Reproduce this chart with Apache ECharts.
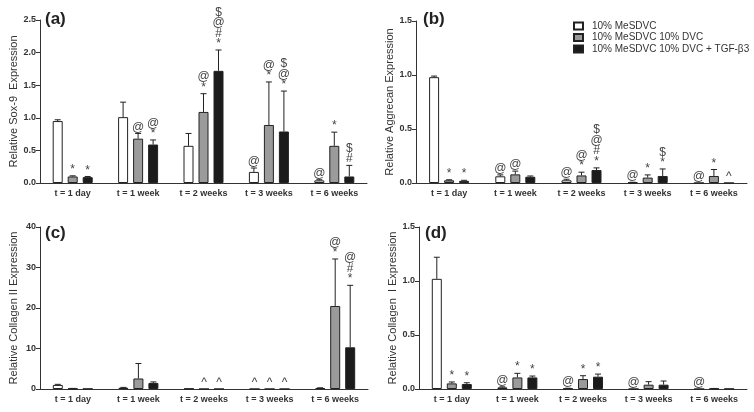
<!DOCTYPE html>
<html>
<head>
<meta charset="utf-8">
<script src="https://cdn.jsdelivr.net/npm/echarts@6/dist/echarts.min.js"></script>
<style>html,body{margin:0;padding:0;background:#fff}#c{width:754px;height:412px}</style>
</head>
<body>
<div id="c"></div>
<script>
// ---------- data ----------
const categories = ['t = 1 day', 't = 1 week', 't = 2 weeks', 't = 3 weeks', 't = 6 weeks'];
const seriesNames = ['10% MeSDVC', '10% MeSDVC 10% DVC', '10% MeSDVC 10% DVC + TGF-\u03b23'];

// (a) Sox-9 : means, upper error-bar ends, significance marks (top to bottom)
const sox9Mean = [[0.95, 1.01, 0.57, 0.17, 0.04], [0.10, 0.68, 1.09, 0.89, 0.57], [0.09, 0.59, 1.72, 0.79, 0.10]];
const sox9Top  = [[0.97, 1.24, 0.76, 0.23, 0.05], [0.11, 0.76, 1.37, 1.55, 0.78], [0.10, 0.66, 2.04, 1.41, 0.27]];
const sox9Sig  = [['', '', '', '@', '@'], ['*', '@', '@*', '@*', '*'], ['*', '@*', '$@#*', '$@*', '$#']];

// (b) Aggrecan
const aggMean = [[0.98, 0.062, 0.025, 0.005, 0.0], [0.025, 0.08, 0.07, 0.05, 0.065], [0.02, 0.058, 0.12, 0.065, 0.0]];
const aggTop  = [[0.99, 0.075, 0.035, 0.007, 0.0], [0.03, 0.11, 0.10, 0.075, 0.125], [0.025, 0.065, 0.14, 0.13, 0.0]];
const aggSig  = [['', '@', '@', '@', '@'], ['*', '@', '@*', '*', '*'], ['*', '', '$@#*', '$*', '^']];

// (c) Collagen II
const col2Mean = [[1.0, 0.3, 0.1, 0.0, 0.25], [0.1, 2.6, 0.0, 0.0, 20.5], [0.05, 1.5, 0.0, 0.0, 10.3]];
const col2Top  = [[1.15, 0.4, 0.1, 0.0, 0.3], [0.15, 6.3, 0.0, 0.0, 32.1], [0.05, 1.75, 0.0, 0.0, 25.6]];
const col2Sig  = [['', '', '', '^', ''], ['', '', '^', '^', '@*'], ['', '', '^', '^', '@#*']];

// (d) Collagen I
const col1Mean = [[1.02, 0.015, 0.005, 0.0, 0.0], [0.052, 0.107, 0.092, 0.04, 0.003], [0.046, 0.107, 0.114, 0.04, 0.002]];
const col1Top  = [[1.22, 0.02, 0.007, 0.0, 0.0], [0.065, 0.145, 0.123, 0.068, 0.005], [0.058, 0.12, 0.138, 0.074, 0.002]];
const col1Sig  = [['', '@', '@', '@', '@'], ['*', '*', '*', '', ''], ['*', '*', '*', '', '']];

const yNames = ['Relative Sox-9  Expression', 'Relative Aggrecan Expression', 'Relative Collagen II Expression', 'Relative Collagen  I Expression'];
const panelLabels = ['(a)', '(b)', '(c)', '(d)'];
const yMax = [2.5, 1.5, 40, 1.5];
const yStep = [0.5, 0.5, 10, 0.5];

// ---------- styling / layout ----------
const FONT = "'Liberation Sans', Arial, Helvetica, sans-serif";
const fills = ['#ffffff', '#9b9b9b', '#1b1b1b'];
const BAR_W = 10, BAR_STEP = 15;
const grids = [
  {left: 40, top: 20, width: 327, height: 163},
  {left: 416, top: 21, width: 331, height: 162},
  {left: 40, top: 227, width: 328, height: 162},
  {left: 419, top: 227, width: 328, height: 162}
];
const labelPos = [[45, 11], [423, 11], [45, 225], [425, 225]];
const panels = [
  [sox9Mean, sox9Top, sox9Sig],
  [aggMean, aggTop, aggSig],
  [col2Mean, col2Top, col2Sig],
  [col1Mean, col1Top, col1Sig]
];

const xAxes = [], yAxes = [], series = [], graphics = [];
panels.forEach((p, g) => {
  xAxes.push({
    type: 'category', gridIndex: g, data: categories,
    axisLine: {lineStyle: {color: '#333', width: 1}},
    axisTick: {alignWithLabel: true, length: 4, lineStyle: {color: '#333'}},
    axisLabel: {fontSize: 9, fontWeight: 'bold', color: '#333', fontFamily: FONT, margin: 6, interval: 0}
  });
  yAxes.push({
    type: 'value', gridIndex: g, min: 0, max: yMax[g], interval: yStep[g],
    name: yNames[g], nameLocation: 'middle', nameGap: 21, nameRotate: 90,
    nameTextStyle: {fontSize: 11, color: '#333', fontFamily: FONT},
    axisLine: {show: true, lineStyle: {color: '#333', width: 1}},
    axisTick: {show: true, length: 4, lineStyle: {color: '#333'}},
    splitLine: {show: false},
    axisLabel: {fontSize: 9, fontWeight: 'bold', color: '#333', fontFamily: FONT, margin: 4,
      formatter: v => (yStep[g] < 1 ? v.toFixed(1) : String(v))}
  });
  const [means, tops, sigs] = p;
  for (let s = 0; s < 3; s++) {
    series.push({
      type: 'bar', name: seriesNames[s], xAxisIndex: g, yAxisIndex: g,
      data: means[s], barWidth: BAR_W, barGap: '50%', z: 2,
      itemStyle: {color: fills[s], borderColor: '#222', borderWidth: 1},
      emphasis: {disabled: true}
    });
    const offset = (s - 1) * BAR_STEP;
    const sigArr = sigs[s];
    series.push({
      type: 'custom', xAxisIndex: g, yAxisIndex: g, z: 3, silent: true,
      data: means[s].map((m, i) => [i, m, tops[s][i]]),
      encode: {x: 0, y: [1, 2]},
      renderItem: (params, api) => {
        const i = params.dataIndex;
        const cat = api.value(0), m = api.value(1), t = api.value(2);
        const pb = api.coord([cat, m]);
        const x = pb[0] + offset;
        let yTop = pb[1];
        const children = [];
        if (t > m) {
          yTop = api.coord([cat, t])[1];
          children.push({type: 'line', shape: {x1: x, y1: pb[1], x2: x, y2: yTop}, style: {stroke: '#222', lineWidth: 1}});
          children.push({type: 'line', shape: {x1: x - 3, y1: yTop, x2: x + 3, y2: yTop}, style: {stroke: '#222', lineWidth: 1}});
        }
        const str = sigArr[i];
        if (str) {
          children.push({type: 'text', x: x, y: yTop - 1, style: {
            text: str.split('').join('\n'), fill: '#444', fontSize: 12, fontFamily: FONT,
            lineHeight: 10.5, textAlign: 'center', textVerticalAlign: 'bottom', align: 'center', verticalAlign: 'bottom'
          }});
        }
        return {type: 'group', children};
      }
    });
  }
  graphics.push({type: 'text', left: labelPos[g][0], top: labelPos[g][1],
    style: {text: panelLabels[g], fontSize: 17, fontWeight: 'bold', fill: '#222', fontFamily: FONT}});
});

const chart = echarts.init(document.getElementById('c'), null, {renderer: 'canvas'});
chart.setOption({
  animation: false,
  backgroundColor: '#fff',
  grid: grids,
  xAxis: xAxes,
  yAxis: yAxes,
  legend: {
    data: seriesNames, orient: 'vertical', left: 573, top: 21, padding: 0,
    icon: 'rect', itemWidth: 9, itemHeight: 7, itemGap: 1.5,
    textStyle: {fontSize: 10, color: '#333', fontFamily: FONT, lineHeight: 10, padding: [0, 0, 0, 4]},
    selectedMode: false
  },
  graphic: graphics,
  series: series
});
</script>
</body>
</html>
